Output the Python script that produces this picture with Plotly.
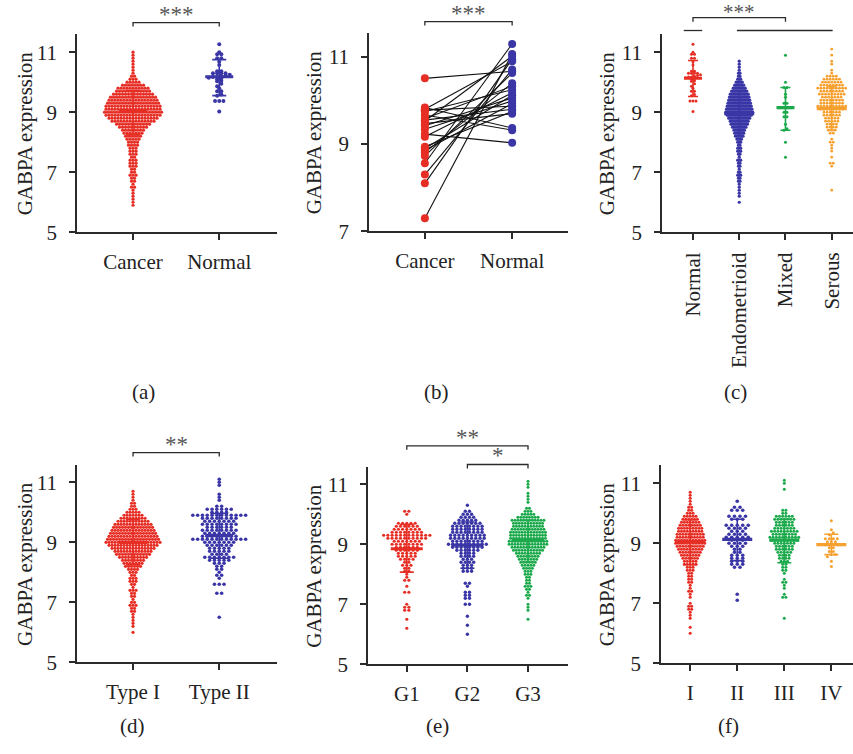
import plotly.graph_objects as go

W, H = 853, 754
RED = "#E62E25"
BLUE = "#3A36A6"
GREEN = "#1BA94B"
ORANGE = "#F6A030"
INK = "#2b2b2b"
FONT = "Liberation Serif"

# ---------------- data ----------------
# (a) Cancer vs Normal  -- cancer given as counts per 0.1 bin starting at cancer_lo
a_categories = ["Cancer", "Normal"]
cancer_lo = 5.9
cancer_counts = [1, 1, 1, 1, 1, 1, 2, 1, 2, 2, 3, 2, 2, 3, 3, 3, 2, 3, 3, 3, 4, 4,
                 5, 6, 7, 8, 10, 12, 15, 17, 19, 20, 19, 19, 18, 17, 16, 14, 12, 11,
                 8, 5, 3, 2, 1, 1, 1, 1, 1, 1, 1, 1]
normal_values = [11.26, 11.0, 10.93, 10.93, 10.8, 10.8, 10.68, 10.57, 10.36, 10.36,
                 10.3, 10.3, 10.3, 10.3, 10.25, 10.22, 10.2, 10.17, 10.17, 10.15,
                 10.12, 10.1, 10.05, 10.03, 9.95, 9.86, 9.8, 9.7, 9.7, 9.59, 9.55,
                 9.37, 9.37, 9.37, 9.02]
a_center = [9.05, 10.18]
a_hi = [9.72, 10.75]
a_lo = [8.25, 9.55]

# (b) paired samples
b_categories = ["Cancer", "Normal"]
b_cancer = [10.51, 9.84, 9.80, 9.78, 9.75, 9.67, 9.59, 9.55, 9.53, 9.47, 9.42, 9.34,
            9.23, 9.17, 8.94, 8.90, 8.86, 8.81, 8.73, 8.56, 8.30, 8.10, 7.30]
b_normal = [10.67, 9.37, 10.90, 9.87, 10.25, 9.32, 10.33, 9.80, 11.02, 9.70, 10.06,
            9.99, 9.03, 10.18, 9.75, 10.12, 9.93, 10.40, 10.63, 11.30, 10.71, 10.95,
            11.07]

# (c) histology
c_categories = ["Normal", "Endometrioid", "Mixed", "Serous"]
endo_lo = 6.0
endo_counts = [1, 0, 1, 1, 1, 1, 1, 2, 2, 3, 2, 1, 2, 2, 3, 1, 2, 3, 3, 2, 3, 4, 6,
               7, 8, 10, 12, 13, 15, 17, 19, 18, 17, 16, 15, 14, 13, 11, 9, 7, 5, 3,
               2, 2, 1, 1, 1, 1]
mixed_values = [10.9, 10.0, 9.82, 9.82, 9.6, 9.5, 9.3, 9.3, 9.15, 9.15, 9.15, 9.15,
                9.15, 9.0, 9.0, 8.85, 8.85, 8.6, 8.45, 8.4, 8.0, 7.5]
serous_lo = 6.4
serous_counts = [1, 0, 0, 0, 0, 0, 0, 0, 1, 2, 0, 1, 0, 1, 1, 1, 2, 1, 0, 2, 3, 4, 4,
                 5, 5, 6, 6, 8, 10, 8, 8, 7, 9, 8, 10, 8, 7, 6, 4, 1, 1, 0, 1, 1, 0,
                 1, 0, 1]
c_center = [10.13, 8.95, 9.15, 9.12]
c_hi = [10.72, 9.70, 9.82, 9.85]
c_lo = [9.52, 8.20, 8.40, 8.40]

# (d) type
d_categories = ["Type I", "Type II"]
type2_lo = 6.5
type2_counts = [1, 0, 0, 0, 0, 0, 0, 0, 2, 0, 0, 3, 0, 1, 2, 1, 2, 2, 3, 5, 7, 4, 5,
                5, 6, 7, 12, 8, 7, 8, 6, 8, 7, 8, 12, 4, 6, 2, 0, 1, 1, 1, 0, 0, 1,
                1, 1]
d_center = [9.00, 9.22]
d_hi = [9.75, 9.96]
d_lo = [8.25, 8.47]

# (e) grade
e_categories = ["G1", "G2", "G3"]
g1_lo = 6.2
g1_counts = [1, 0, 0, 1, 0, 0, 2, 2, 1, 0, 0, 0, 2, 0, 1, 0, 2, 1, 1, 2, 2, 3, 2, 4,
             5, 5, 6, 6, 8, 7, 10, 12, 8, 7, 6, 5, 0, 0, 1, 2]
g2_lo = 6.0
g2_counts = [1, 0, 0, 1, 0, 0, 1, 0, 0, 0, 2, 0, 2, 2, 2, 0, 1, 2, 0, 0, 0, 3, 3, 3,
             4, 3, 4, 4, 6, 8, 10, 8, 9, 9, 8, 8, 8, 7, 5, 4, 3, 2, 0, 1]
g3_lo = 6.5
g3_counts = [1, 0, 0, 1, 1, 1, 0, 1, 2, 1, 2, 3, 2, 2, 2, 3, 3, 4, 5, 6, 7, 8, 9, 11,
             12, 14, 14, 13, 13, 13, 12, 11, 11, 12, 8, 5, 3, 2, 0, 1, 1, 1, 1, 0,
             1, 1, 1]
e_center = [8.85, 8.97, 9.12]
e_hi = [9.66, 9.74, 9.80]
e_lo = [8.07, 8.20, 8.40]

# (f) stage
f_categories = ["I", "II", "III", "IV"]
s1_lo = 6.0
s1_counts = [1, 0, 1, 0, 0, 1, 1, 1, 2, 2, 1, 0, 1, 1, 2, 1, 1, 2, 2, 2, 2, 3, 3, 5,
             5, 6, 7, 8, 9, 10, 11, 11, 10, 10, 9, 9, 8, 7, 6, 5, 3, 2, 2, 1, 1, 1,
             1, 1]
s2_lo = 7.1
s2_counts = [1, 0, 1, 0, 0, 0, 0, 0, 0, 0, 0, 2, 3, 3, 3, 3, 2, 2, 3, 4, 3, 5, 4, 3,
             4, 5, 0, 3, 4, 0, 3, 2, 0, 1]
s3_lo = 6.5
s3_counts = [1, 0, 0, 0, 0, 0, 0, 2, 1, 0, 1, 1, 2, 1, 0, 1, 2, 2, 2, 3, 4, 4, 5, 6,
             6, 7, 9, 10, 8, 9, 7, 6, 6, 7, 6, 2, 2, 0, 0, 0, 0, 0, 0, 1, 0, 1, 1]
s4_values = [9.75, 9.45, 9.35, 9.28, 9.15, 9.15, 9.15, 9.15, 9.05, 9.05, 9.05, 8.95,
             8.95, 8.95, 8.95, 8.95, 8.95, 8.85, 8.85, 8.72, 8.72, 8.62, 8.62, 8.55,
             8.4, 8.22]
f_center = [9.05, 9.13, 9.10, 8.95]
f_hi = [9.78, 9.80, 9.80, 9.30]
f_lo = [8.28, 8.42, 8.35, 8.62]

# ---------------- helpers ----------------
def expand(lo, counts, step=0.1):
    vals = []
    for i, c in enumerate(counts):
        vals += [round(lo + i * step, 2)] * c
    return vals


def swarm(values, pos, dx, row=0.1):
    rows = {}
    for v in values:
        rows.setdefault(round(v / row), []).append(v)
    xs, ys = [], []
    for k in sorted(rows):
        vs = sorted(rows[k])
        n = len(vs)
        for j, v in enumerate(vs):
            xs.append(pos + (j - (n - 1) / 2) * dx)
            ys.append(v)
    return xs, ys


# panel geometry in pixels (layout only)
PANELS = {
    "a": dict(n=1, x0=77, x1=277, top=35, bot=236, yr=(5, 11.59), xr=(-0.65, 1.67),
              cats=a_categories, yt=[5, 7, 9, 11], angle=0),
    "b": dict(n=2, x0=369, x1=568, top=34, bot=235, yr=(7, 11.54), xr=(-0.64, 1.64),
              cats=b_categories, yt=[7, 9, 11], angle=0),
    "c": dict(n=3, x0=662, x1=853, top=35, bot=236, yr=(5, 11.59), xr=(-0.67, 3.46),
              cats=c_categories, yt=[5, 7, 9, 11], angle=-90),
    "d": dict(n=4, x0=77, x1=277, top=473, bot=673, yr=(5, 11.56), xr=(-0.65, 1.67),
              cats=d_categories, yt=[5, 7, 9, 11], angle=0),
    "e": dict(n=5, x0=368, x1=568, top=475, bot=675, yr=(5, 11.56), xr=(-0.64, 2.66),
              cats=e_categories, yt=[5, 7, 9, 11], angle=0),
    "f": dict(n=6, x0=661, x1=853, top=473, bot=674, yr=(5, 11.59), xr=(-0.62, 3.46),
              cats=f_categories, yt=[5, 7, 9, 11], angle=0),
}


def px_per_unit_x(p):
    return (p["x1"] - p["x0"]) / (p["xr"][1] - p["xr"][0])


def axnames(p):
    n = p["n"]
    return ("x" if n == 1 else f"x{n}"), ("y" if n == 1 else f"y{n}")


fig = go.Figure()


def add_group(p, values, pos, color, dx_px, size=3.2):
    xa, ya = axnames(p)
    dx = dx_px / px_per_unit_x(p)
    xs, ys = swarm(values, pos, dx)
    fig.add_trace(go.Scatter(x=xs, y=ys, mode="markers", xaxis=xa, yaxis=ya,
                             marker=dict(color=color, size=size, line=dict(width=0)),
                             showlegend=False, hoverinfo="y"))


def add_errbar(p, pos, center, hi, lo, color, mw_px=14, cw_px=7):
    xa, ya = axnames(p)
    u = px_per_unit_x(p)
    mw, cw = mw_px / u, cw_px / u
    fig.add_trace(go.Scatter(
        x=[pos, pos, None, pos - cw, pos + cw, None, pos - cw, pos + cw],
        y=[lo, hi, None, hi, hi, None, lo, lo],
        mode="lines", line=dict(color=color, width=1.6), xaxis=xa, yaxis=ya,
        showlegend=False, hoverinfo="skip"))
    fig.add_trace(go.Scatter(
        x=[pos - mw, pos + mw], y=[center, center], mode="lines",
        line=dict(color=color, width=3.2), xaxis=xa, yaxis=ya,
        showlegend=False, hoverinfo="skip"))


def dom_x(p, v):
    return (v - p["xr"][0]) / (p["xr"][1] - p["xr"][0])


def dom_y(p, px_above_top):
    return 1 + px_above_top / (p["bot"] - p["top"])


def hline(p, xa_v, xb_v, above):
    xa, ya = axnames(p)
    fig.add_shape(type="line", xref=f"{xa} domain", yref=f"{ya} domain",
                  x0=dom_x(p, xa_v), x1=dom_x(p, xb_v), y0=dom_y(p, above),
                  y1=dom_y(p, above), line=dict(color=INK, width=1.3))


def bracket(p, i, j, above, text, tick=4, fsize=23, shift=-6):
    xa, ya = axnames(p)
    path_pts = [(dom_x(p, i), dom_y(p, above - tick)), (dom_x(p, i), dom_y(p, above)),
                (dom_x(p, j), dom_y(p, above)), (dom_x(p, j), dom_y(p, above - tick))]
    path = "M " + " L ".join(f"{x},{y}" for x, y in path_pts)
    fig.add_shape(type="path", xref=f"{xa} domain", yref=f"{ya} domain", path=path,
                  line=dict(color=INK, width=1.3))
    fig.add_annotation(x=(i + j) / 2, xref=xa, y=dom_y(p, above), yref=f"{ya} domain",
                       text=text, showarrow=False, yanchor="bottom", yshift=shift,
                       font=dict(family=FONT, size=fsize, color="#555"))


# ---------------- panel (a) ----------------
pa = PANELS["a"]
add_group(pa, expand(cancer_lo, cancer_counts), 0, RED, 3.0)
add_group(pa, normal_values, 1, BLUE, 4.2, size=4)
add_errbar(pa, 0, a_center[0], a_hi[0], a_lo[0], RED)
add_errbar(pa, 1, a_center[1], a_hi[1], a_lo[1], BLUE, mw_px=14, cw_px=7)
bracket(pa, 0, 1, 12, "***")

# ---------------- panel (b) ----------------
pb = PANELS["b"]
lx, ly = [], []
for c, n in zip(b_cancer, b_normal):
    lx += [0, 1, None]
    ly += [c, n, None]
fig.add_trace(go.Scatter(x=lx, y=ly, mode="lines", line=dict(color="#111", width=1.1),
                         xaxis="x2", yaxis="y2", showlegend=False, hoverinfo="skip"))
fig.add_trace(go.Scatter(x=[0] * len(b_cancer), y=b_cancer, mode="markers",
                         marker=dict(color=RED, size=8), xaxis="x2", yaxis="y2",
                         showlegend=False))
fig.add_trace(go.Scatter(x=[1] * len(b_normal), y=b_normal, mode="markers",
                         marker=dict(color=BLUE, size=8), xaxis="x2", yaxis="y2",
                         showlegend=False))
bracket(pb, 0, 1, 12, "***")

# ---------------- panel (c) ----------------
pc = PANELS["c"]
add_group(pc, normal_values, 0, RED, 3.0, size=3.0)
add_group(pc, expand(endo_lo, endo_counts), 1, BLUE, 1.5, size=3.2)
add_group(pc, mixed_values, 2, GREEN, 3.0, size=3.0)
add_group(pc, expand(serous_lo, serous_counts), 3, ORANGE, 3.1, size=2.8)
for i, col in enumerate([RED, BLUE, GREEN, ORANGE]):
    mw = 15 if i in (1, 3) else 9
    add_errbar(pc, i, c_center[i], c_hi[i], c_lo[i], col, mw_px=mw, cw_px=5)
hline(pc, -0.2, 0.2, 4)
hline(pc, 0.95, 3.02, 4)
bracket(pc, 0, 2, 17, "***", fsize=21, shift=-8)

# ---------------- panel (d) ----------------
pdp = PANELS["d"]
add_group(pdp, expand(endo_lo, endo_counts), 0, RED, 3.0)
add_group(pdp, expand(type2_lo, type2_counts), 1, BLUE, 4.8, size=3.6)
add_errbar(pdp, 0, d_center[0], d_hi[0], d_lo[0], RED)
add_errbar(pdp, 1, d_center[1], d_hi[1], d_lo[1], BLUE, mw_px=14, cw_px=9)
bracket(pdp, 0, 1, 13, "**")

# ---------------- panel (e) ----------------
pe = PANELS["e"]
add_group(pe, expand(g1_lo, g1_counts), 0, RED, 4.2, size=3.2)
add_group(pe, expand(g2_lo, g2_counts), 1, BLUE, 4.2, size=3.4)
add_group(pe, expand(g3_lo, g3_counts), 2, GREEN, 2.9, size=3.0)
for i, col in enumerate([RED, BLUE, GREEN]):
    add_errbar(pe, i, e_center[i], e_hi[i], e_lo[i], col, mw_px=16, cw_px=7)
bracket(pe, 0, 2, 22, "**")
bracket(pe, 1, 2, 3, "*")

# ---------------- panel (f) ----------------
pf = PANELS["f"]
add_group(pf, expand(s1_lo, s1_counts), 0, RED, 2.9, size=3.1)
add_group(pf, expand(s2_lo, s2_counts), 1, BLUE, 5.5, size=3.6)
add_group(pf, expand(s3_lo, s3_counts), 2, GREEN, 3.2, size=3.0)
add_group(pf, s4_values, 3, ORANGE, 4.0, size=3.0)
for i, col in enumerate([RED, BLUE, GREEN, ORANGE]):
    add_errbar(pf, i, f_center[i], f_hi[i], f_lo[i], col, mw_px=15, cw_px=7)

# ---------------- axes ----------------
layout_axes = {}
for key, p in PANELS.items():
    n = p["n"]
    xk = "xaxis" if n == 1 else f"xaxis{n}"
    yk = "yaxis" if n == 1 else f"yaxis{n}"
    xa, ya = axnames(p)
    common = dict(showline=True, linecolor=INK, linewidth=1.5, ticks="outside",
                  ticklen=6, tickwidth=1.5, tickcolor=INK, showgrid=False,
                  zeroline=False, fixedrange=True,
                  tickfont=dict(family=FONT, size=21, color="#222"))
    layout_axes[xk] = dict(common, domain=[p["x0"] / W, p["x1"] / W], range=list(p["xr"]),
                           anchor=ya, tickmode="array", tickvals=list(range(len(p["cats"]))),
                           ticktext=p["cats"], tickangle=p["angle"], ticklabelstandoff=4)
    layout_axes[yk] = dict(common, domain=[1 - p["bot"] / H, 1 - p["top"] / H],
                           range=list(p["yr"]), anchor=xa, tickmode="array",
                           tickvals=p["yt"], ticktext=[str(v) for v in p["yt"]],
                           ticklabelstandoff=8)

fig.update_layout(width=W, height=H, margin=dict(l=0, r=0, t=0, b=0),
                  paper_bgcolor="white", plot_bgcolor="white", showlegend=False,
                  **layout_axes)

# axis titles and panel labels
for key, p, tx in [("a", PANELS["a"], 25), ("b", PANELS["b"], 314), ("c", PANELS["c"], 607),
                   ("d", PANELS["d"], 25), ("e", PANELS["e"], 314), ("f", PANELS["f"], 607)]:
    yc = (p["top"] + p["bot"]) / 2
    fig.add_annotation(x=tx / W, y=1 - yc / H, xref="paper", yref="paper",
                       text="GABPA expression", textangle=-90, showarrow=False,
                       xanchor="center", yanchor="middle",
                       font=dict(family=FONT, size=21, color="#222"))

for lab, lx_, ly_ in [("(a)", 143, 398), ("(b)", 436, 398), ("(c)", 735, 398),
                      ("(d)", 132, 738), ("(e)", 437, 738), ("(f)", 728, 738)]:
    fig.add_annotation(x=lx_ / W, y=1 - ly_ / H, xref="paper", yref="paper", text=lab,
                       showarrow=False, xanchor="center", yanchor="middle",
                       font=dict(family=FONT, size=21, color="#222"))

fig.write_html("out.html", config={"displayModeBar": False},
               post_script="document.body.style.margin='0';"
                           "document.body.style.overflow='hidden';")
